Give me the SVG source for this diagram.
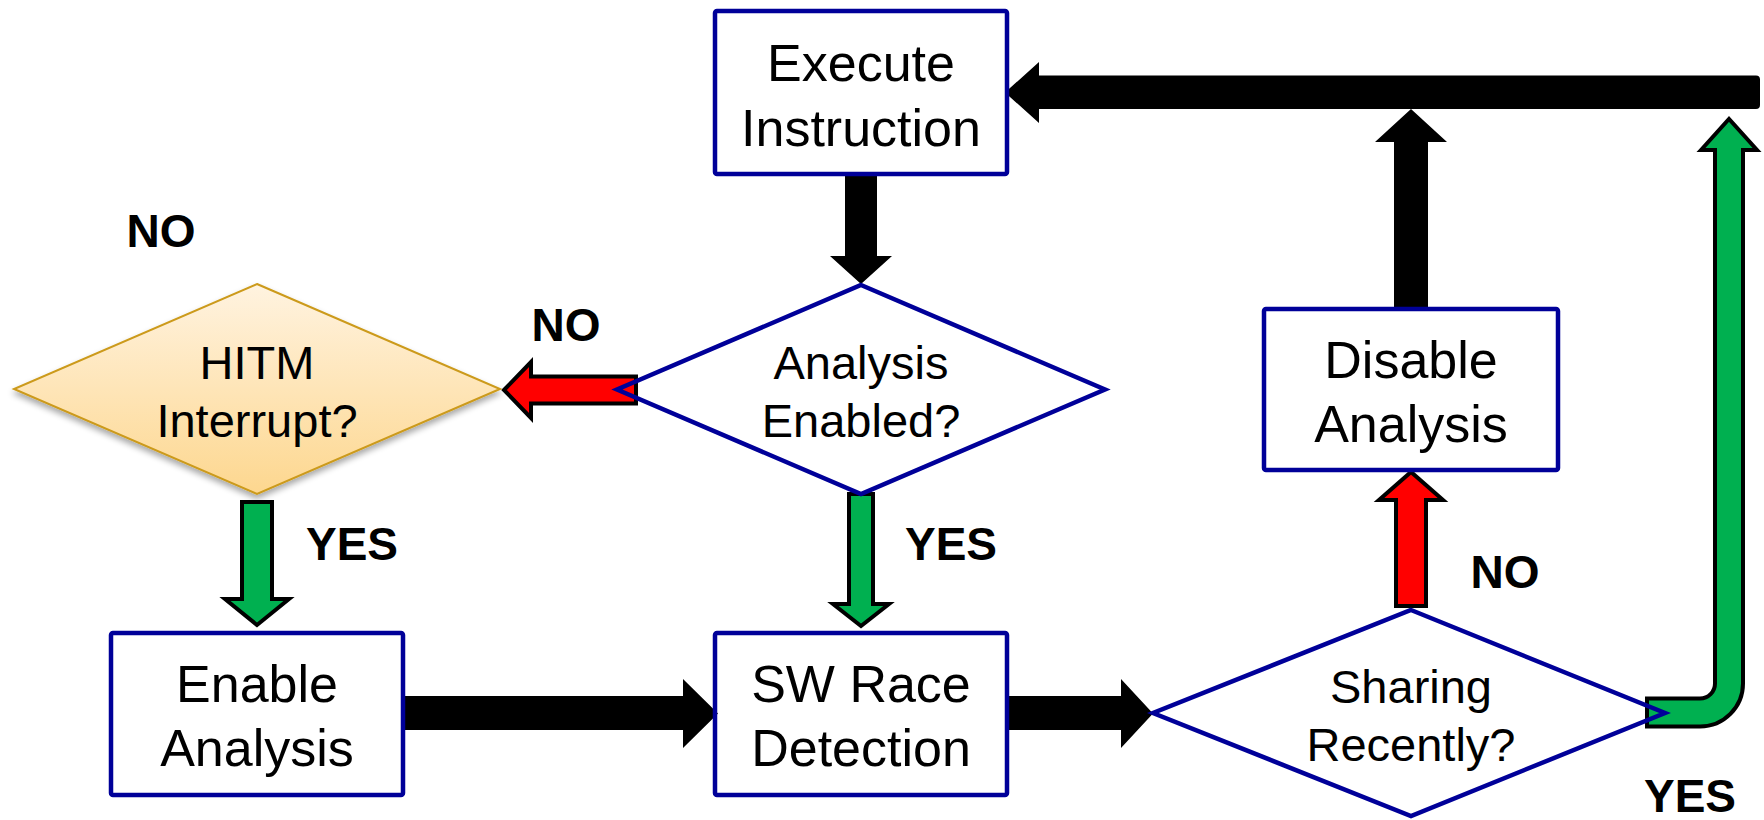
<svg xmlns="http://www.w3.org/2000/svg" width="1764" height="820" viewBox="0 0 1764 820">
<defs>
<linearGradient id="gold" x1="0" y1="0" x2="0" y2="1">
<stop offset="0" stop-color="#FFF3E0"/>
<stop offset="1" stop-color="#FDD78F"/>
</linearGradient>
<filter id="sh" x="-10%" y="-10%" width="120%" height="130%">
<feGaussianBlur in="SourceAlpha" stdDeviation="3"/>
<feOffset dx="0" dy="4" result="b"/>
<feComponentTransfer><feFuncA type="linear" slope="0.35"/></feComponentTransfer>
<feMerge><feMergeNode/><feMergeNode in="SourceGraphic"/></feMerge>
</filter>
</defs>
<style>
.box{fill:none;stroke:#000099;stroke-width:4.5;stroke-linejoin:round}
.dia{fill:none;stroke:#000099;stroke-width:4.5;stroke-linejoin:miter}
.t{font-family:"Liberation Sans",Arial,sans-serif;font-size:52px;fill:#000;text-anchor:middle}
.td{font-family:"Liberation Sans",Arial,sans-serif;font-size:47px;fill:#000;text-anchor:middle}
.lbl{font-family:"Liberation Sans",Arial,sans-serif;font-size:46px;font-weight:bold;fill:#000;text-anchor:middle}
.blk{fill:#000}
.grn{fill:#00B050;stroke:#000;stroke-width:4;stroke-linejoin:miter}
.red{fill:#FF0000;stroke:#000;stroke-width:4;stroke-linejoin:miter}
</style>
<rect width="1764" height="820" fill="#fff"/>

<g id="connectors">
<polygon class="blk" points="845,175 877,175 877,256 892,256 861,284 830,256 845,256"/>
<path class="blk" d="M1005,92.5 L1039,62 L1039,75.5 L1756,75.5 Q1760,75.5 1760,79.5 L1760,105 Q1760,109 1756,109 L1039,109 L1039,123 Z"/>
<polygon class="blk" points="1411,109 1447,142 1428,142 1428,308 1394,308 1394,142 1375,142"/>
<polygon class="blk" points="403,696 683,696 683,679 718,713.5 683,748 683,730 403,730"/>
<polygon class="blk" points="1007,696 1121,696 1121,679 1153,713.5 1121,748 1121,730 1007,730"/>
<polygon class="red" points="504,390 531,362 531,376.5 636,376.5 636,403.5 531,403.5 531,418"/>
<polygon class="red" points="1396,606 1396,500 1379,500 1411,472 1443,500 1426,500 1426,606"/>
<polygon class="grn" points="242,502 272,502 272,599 289,599 257,625 225,599 242,599"/>
<polygon class="grn" points="849,494 873,494 873,604 889,604 861,626 833,604 849,604"/>
<path d="M1645,712.5 H1700 A29,29 0 0 0 1729,683.5 V150" fill="none" stroke="#000" stroke-width="32"/>
<polygon class="grn" points="1701,150 1729,119 1757,150"/>
<path d="M1649,712.5 H1700 A29,29 0 0 0 1729,683.5 V145" fill="none" stroke="#00B050" stroke-width="24"/>
</g>

<g id="execute">
<rect class="box" x="715" y="11" width="292" height="163" rx="2"/>
<text class="t" x="861" y="81">Execute</text>
<text class="t" x="861" y="146">Instruction</text>
</g>
<g id="analysis-enabled">
<polygon class="dia" points="861,285 1105,389.5 861,494 617,389.5"/>
<text class="td" x="861" y="379">Analysis</text>
<text class="td" x="861" y="437">Enabled?</text>
</g>
<g id="hitm">
<polygon points="257,284 500,389 257,494 14,389" fill="url(#gold)" stroke="#CC9A1A" stroke-width="2" filter="url(#sh)"/>
<text class="td" x="257" y="379">HITM</text>
<text class="td" x="257" y="437">Interrupt?</text>
</g>
<g id="disable">
<rect class="box" x="1264" y="309" width="294" height="161" rx="2"/>
<text class="t" x="1411" y="378">Disable</text>
<text class="t" x="1411" y="442">Analysis</text>
</g>
<g id="enable">
<rect class="box" x="111" y="633" width="292" height="162" rx="2"/>
<text class="t" x="257" y="702">Enable</text>
<text class="t" x="257" y="766">Analysis</text>
</g>
<g id="sw-race">
<rect class="box" x="715" y="633" width="292" height="162" rx="2"/>
<text class="t" x="861" y="702">SW Race</text>
<text class="t" x="861" y="766">Detection</text>
</g>
<g id="sharing">
<polygon class="dia" points="1411,610 1665,713 1411,816 1153,713"/>
<text class="td" x="1411" y="703">Sharing</text>
<text class="td" x="1411" y="761">Recently?</text>
</g>

<g id="labels">
<text class="lbl" x="161" y="247">NO</text>
<text class="lbl" x="566" y="341">NO</text>
<text class="lbl" x="352" y="560">YES</text>
<text class="lbl" x="951" y="560">YES</text>
<text class="lbl" x="1505" y="588">NO</text>
<text class="lbl" x="1690" y="812">YES</text>
</g>
</svg>
